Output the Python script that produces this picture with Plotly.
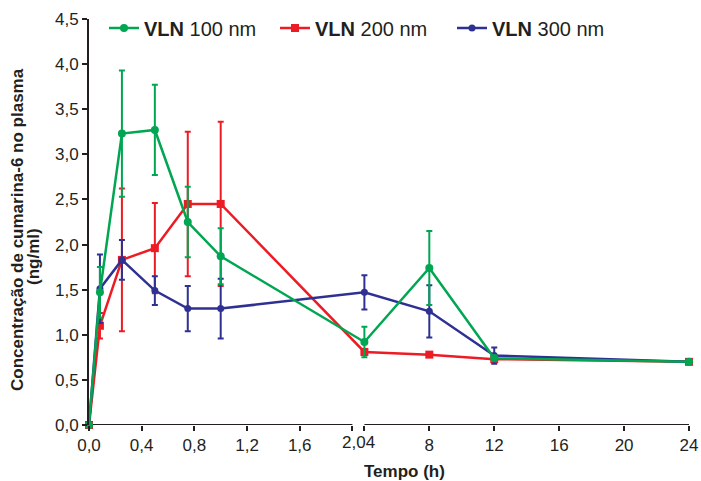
import plotly.graph_objects as go

# ---------------- data ----------------
TIMES = [0, 0.083, 0.25, 0.5, 0.75, 1.0, 4, 8, 12, 24]

vln100_mean = [0, 1.47, 3.23, 3.27, 2.25, 1.87, 0.92, 1.74, 0.74, 0.70]
vln100_sd = [0, 0.28, 0.70, 0.50, 0.39, 0.31, 0.17, 0.41, 0.03, 0.0]

vln200_mean = [0, 1.10, 1.83, 1.96, 2.45, 2.45, 0.81, 0.78, 0.73, 0.70]
vln200_sd = [0, 0.14, 0.79, 0.50, 0.80, 0.91, 0.03, 0.02, 0.02, 0.01]

vln300_mean = [0, 1.51, 1.83, 1.49, 1.29, 1.29, 1.47, 1.26, 0.77, 0.70]
vln300_sd = [0, 0.38, 0.22, 0.16, 0.25, 0.33, 0.19, 0.29, 0.09, 0.01]

LEFT_TICKS = [0, 0.4, 0.8, 1.2, 1.6, 2.0]
LEFT_LABELS = ["0,0", "0,4", "0,8", "1,2", "1,6", ""]
RIGHT_TICKS = [4, 8, 12, 16, 20, 24]
RIGHT_LABELS = ["", "8", "12", "16", "20", "24"]
BREAK_LABEL = "2,04"

Y_TICKS = [0, 0.5, 1.0, 1.5, 2.0, 2.5, 3.0, 3.5, 4.0, 4.5]

# ---------------- broken axis transform ----------------
BREAK_LO, BREAK_HI = 2.0, 4.0
GAP = 0.0911
RIGHT_SCALE = 0.12324


def ax(t):
    return t if t <= BREAK_LO else BREAK_LO + GAP + (t - BREAK_HI) * RIGHT_SCALE


X = [ax(t) for t in TIMES]

GREEN = "#00A651"
RED = "#ED1C24"
BLUE = "#2E3192"
DARK = "#231F20"
FONT = "Liberation Sans, Arial, sans-serif"

fig = go.Figure()


def add(mean, sd, color, name, symbol, size, legend):
    fig.add_trace(go.Scatter(
        x=X, y=mean, name=name, mode="lines+markers",
        line=dict(color=color, width=2.5),
        marker=dict(color=color, symbol=symbol, size=size),
        error_y=dict(type="data", array=sd, visible=True, color=color,
                     thickness=2, width=3),
        cliponaxis=False, legend=legend, showlegend=True,
    ))


add(vln200_mean, vln200_sd, RED, "<b>VLN</b> 200 nm", "square", 8, "legend2")
add(vln300_mean, vln300_sd, BLUE, "<b>VLN</b> 300 nm", "circle", 7, "legend3")
add(vln100_mean, vln100_sd, GREEN, "<b>VLN</b> 100 nm", "circle", 8, "legend")

tickvals = [ax(t) for t in LEFT_TICKS] + [ax(t) for t in RIGHT_TICKS]
ticktext = LEFT_LABELS + RIGHT_LABELS

L, R, T, B = 89, 12, 19, 56
W, H = 701, 481
pw, ph = W - L - R, H - T - B


def px_x(p):
    return (p - L) / pw


def px_y(p):
    return (H - B - p) / ph


leg_common = dict(orientation="h", yanchor="middle", xanchor="left",
                  font=dict(size=20, color=DARK, family=FONT),
                  bgcolor="rgba(0,0,0,0)", borderwidth=0, visible=True)

fig.update_layout(
    width=W, height=H,
    margin=dict(l=L, r=R, t=T, b=B, autoexpand=False),
    plot_bgcolor="white", paper_bgcolor="white",
    separators=",.",
    showlegend=True,
    font=dict(family=FONT, color=DARK, size=17),
    legend=dict(x=px_x(104), y=px_y(28), **leg_common),
    legend2=dict(x=px_x(275), y=px_y(28), **leg_common),
    legend3=dict(x=px_x(452), y=px_y(28), **leg_common),
    xaxis=dict(
        range=[0, ax(24)], showgrid=False, zeroline=False, showline=False,
        tickmode="array", tickvals=tickvals, ticktext=ticktext,
        ticks="outside", ticklen=5, tickwidth=2, tickcolor=DARK,
        tickangle=0, tickfont=dict(size=17, color=DARK),
    ),
    yaxis=dict(
        range=[0, 4.5], showgrid=False, zeroline=False, showline=True,
        linewidth=2, linecolor=DARK,
        tickmode="array", tickvals=Y_TICKS, tickformat=".1f",
        ticks="outside", ticklen=5, tickwidth=2, tickcolor=DARK,
        tickfont=dict(size=17, color=DARK),
    ),
    shapes=[
        dict(type="line", xref="x", yref="y", x0=ax(0), x1=ax(BREAK_LO), y0=0, y1=0,
             line=dict(color=DARK, width=2), layer="below"),
        dict(type="line", xref="x", yref="y", x0=ax(BREAK_HI), x1=ax(24), y0=0, y1=0,
             line=dict(color=DARK, width=2), layer="below"),
    ],
    annotations=[
        dict(text=BREAK_LABEL, xref="x", yref="paper",
             x=(ax(BREAK_LO) + ax(BREAK_HI)) / 2, y=0, yanchor="middle",
             yshift=-17, showarrow=False, font=dict(size=17, color=DARK)),
        dict(text="<b>Tempo (h)</b>", xref="paper", yref="paper",
             x=px_x(405), y=px_y(471), xanchor="center", yanchor="middle",
             showarrow=False, font=dict(size=17, color=DARK)),
        dict(text="<b>Concentração de cumarina-6 no plasma</b>", xref="paper", yref="paper",
             x=px_x(17), y=px_y(230), xanchor="center", yanchor="middle",
             textangle=-90, showarrow=False, font=dict(size=17, color=DARK)),
        dict(text="<b>(ng/ml)</b>", xref="paper", yref="paper",
             x=px_x(33), y=px_y(257), xanchor="center", yanchor="middle",
             textangle=-90, showarrow=False, font=dict(size=17, color=DARK)),
    ],
)

fig.write_html(
    "out.html",
    config={"displayModeBar": False},
    post_script="document.body.style.margin='0';document.body.style.padding='0';",
)
